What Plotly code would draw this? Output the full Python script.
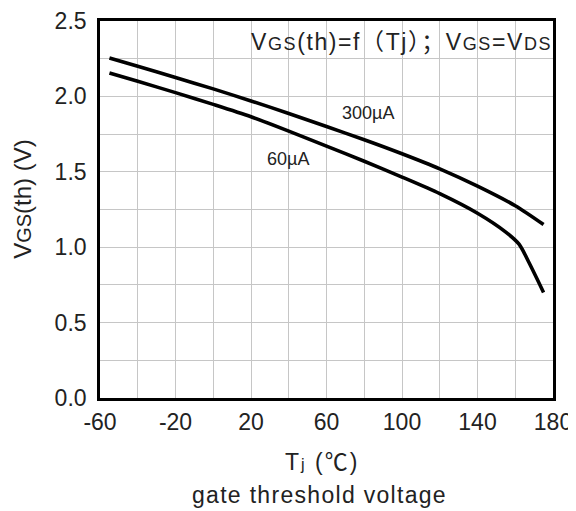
import plotly.graph_objects as go

# ---- data ----
temp_300 = [-55, -40, -20, 0, 20, 40, 60, 80, 100, 120, 140, 160, 175]
vth_300 = [2.255, 2.20, 2.125, 2.05, 1.97, 1.887, 1.80, 1.713, 1.62, 1.52, 1.405, 1.275, 1.15]

temp_60 = [-55, -40, -20, 0, 20, 40, 60, 80, 100, 120, 140, 155, 162, 167, 175]
vth_60 = [2.155, 2.10, 2.025, 1.947, 1.865, 1.77, 1.67, 1.57, 1.465, 1.355, 1.225, 1.10, 1.02, 0.905, 0.70]

x_ticks = [-60, -20, 20, 60, 100, 140, 180]
y_ticks = [0.0, 0.5, 1.0, 1.5, 2.0, 2.5]
y_tick_text = ["0.0", "0.5", "1.0", "1.5", "2.0", "2.5"]

FONT = "Liberation Sans, Arial, Noto Sans CJK SC"
TXT = "#222222"

fig = go.Figure()
for t, v in [(temp_300, vth_300), (temp_60, vth_60)]:
    fig.add_trace(go.Scatter(x=t, y=v, mode="lines",
                             line=dict(color="black", width=3.6, shape="spline", smoothing=0.8),
                             showlegend=False, hoverinfo="skip"))

axis_common = dict(showline=True, linecolor="black", linewidth=2.6, mirror=True,
                   showgrid=True, gridcolor="#c6c6c6", gridwidth=1, zeroline=False,
                   ticks="", automargin=False,
                   tickfont=dict(family=FONT, size=23, color=TXT))

fig.update_xaxes(range=[-60, 180], tickvals=x_ticks, ticktext=[str(v) for v in x_ticks],
                 minor=dict(dtick=20, tick0=-60, showgrid=True, gridcolor="#c6c6c6", gridwidth=1),
                 ticklabelstandoff=2, **axis_common)
fig.update_yaxes(range=[0, 2.5], tickvals=y_ticks, ticktext=y_tick_text,
                 minor=dict(dtick=0.25, tick0=0, showgrid=True, gridcolor="#c6c6c6", gridwidth=1),
                 ticklabelstandoff=6, **axis_common)

# white box behind the condition text
fig.add_shape(type="rect", xref="paper", yref="paper", x0=0.336, x1=0.994, y0=0.911, y1=0.988,
              fillcolor="white", line=dict(width=0), layer="between")

sm = lambda s, size=18: f"<span style='font-size:{size}px'>{s}</span>"
ls = lambda s, px: f"<span style='letter-spacing:{px}px'>{s}</span>"

annos = [
    dict(text=ls("V" + sm("GS") + "(th)=f（Tj）；V" + sm("GS") + "=V" + sm("DS"), 1.6),
         x=0.665, y=0.945, size=23),
    dict(text="300µA", x=0.5925, y=0.757, size=18),
    dict(text="60µA", x=0.414, y=0.634, size=18),
    dict(text=ls("T" + sm("j", 16) + " (℃)", 2), x=0.49, y=-0.170, size=23),
    dict(text=ls("gate threshold voltage", 1.3), x=0.485, y=-0.257, size=23),
]
for a in annos:
    fig.add_annotation(text=a["text"], x=a["x"], y=a["y"], xref="paper", yref="paper",
                       xanchor="center", yanchor="middle", showarrow=False,
                       font=dict(family=FONT, size=a["size"], color=TXT))

fig.add_annotation(text="V" + sm("GS", 20) + "(th) (V)", x=-0.171, y=0.527, xref="paper", yref="paper",
                   xanchor="center", yanchor="middle", showarrow=False, textangle=-90,
                   font=dict(family=FONT, size=24, color=TXT))

# the page body adds an 8 px offset, so the figure is 8 px smaller on each side
fig.update_layout(width=568, height=503, margin=dict(l=92, r=23, t=13, b=113),
                  plot_bgcolor="white", paper_bgcolor="white")

fig.write_html("out.html")
